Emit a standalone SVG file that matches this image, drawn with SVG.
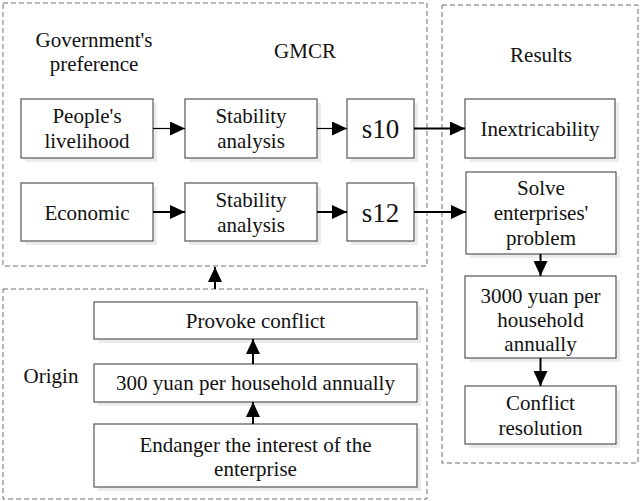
<svg xmlns="http://www.w3.org/2000/svg" width="640" height="501" viewBox="0 0 640 501">
<style>
.frame{fill:none;stroke:#6e6e6e;stroke-width:1;stroke-dasharray:5,3}
.box{fill:#fff;stroke:#555;stroke-width:1.2}
.sh{fill:#ececec}
text{font-family:"Liberation Serif","Times New Roman",Times,Tinos,"Noto Serif","DejaVu Serif",Georgia,serif;font-size:21px;fill:#111;text-anchor:middle}
.big{font-size:27px}
.c{fill:none;stroke:#000;stroke-width:2}
</style>
<defs>
<marker id="ah" markerUnits="userSpaceOnUse" markerWidth="16" markerHeight="14" refX="15" refY="7" orient="auto">
<path d="M0,0 L15,7 L0,14 Z" fill="#000"/>
</marker>
</defs>
<rect width="640" height="501" fill="#fff"/>
<g id="frames">
<rect class="frame" x="3" y="3" width="424" height="263"/>
<rect class="frame" x="442" y="5" width="196" height="458"/>
<rect class="frame" x="3" y="289" width="424" height="210"/>
</g>
<g id="labels">
<text x="94" y="47">Government's</text>
<text x="94" y="71">preference</text>
<text x="305" y="58">GMCR</text>
<text x="541" y="62">Results</text>
<text x="51" y="383">Origin</text>
</g>
<g id="n_people">
<rect class="sh" x="25" y="103" width="132" height="59"/>
<rect class="box" x="21" y="99" width="132" height="59"/>
<text x="87" y="123">People's</text>
<text x="87" y="148">livelihood</text>
</g>
<g id="n_stab1">
<rect class="sh" x="189" y="103" width="132" height="59"/>
<rect class="box" x="185" y="99" width="132" height="59"/>
<text x="251" y="123">Stability</text>
<text x="251" y="148">analysis</text>
</g>
<g id="n_s10">
<rect class="sh" x="351" y="103" width="67" height="59"/>
<rect class="box" x="347" y="99" width="67" height="59"/>
<text class="big" x="380.5" y="138">s10</text>
</g>
<g id="n_inex">
<rect class="sh" x="469" y="103" width="150" height="59"/>
<rect class="box" x="465" y="99" width="150" height="59"/>
<text x="540" y="136">Inextricability</text>
</g>
<g id="n_econ">
<rect class="sh" x="25" y="187" width="132" height="58"/>
<rect class="box" x="21" y="183" width="132" height="58"/>
<text x="87" y="220">Economic</text>
</g>
<g id="n_stab2">
<rect class="sh" x="189" y="187" width="132" height="58"/>
<rect class="box" x="185" y="183" width="132" height="58"/>
<text x="251" y="207">Stability</text>
<text x="251" y="232">analysis</text>
</g>
<g id="n_s12">
<rect class="sh" x="351" y="187" width="67" height="58"/>
<rect class="box" x="347" y="183" width="67" height="58"/>
<text class="big" x="380.5" y="222">s12</text>
</g>
<g id="n_solve">
<rect class="sh" x="470" y="176" width="150" height="82"/>
<rect class="box" x="466" y="172" width="150" height="82"/>
<text x="541" y="195">Solve</text>
<text x="541" y="220">enterprises'</text>
<text x="541" y="245">problem</text>
</g>
<g id="n_3000">
<rect class="sh" x="469" y="280" width="151" height="82"/>
<rect class="box" x="465" y="276" width="151" height="82"/>
<text x="540.5" y="303">3000 yuan per</text>
<text x="540.5" y="327">household</text>
<text x="540.5" y="351">annually</text>
</g>
<g id="n_resol">
<rect class="sh" x="469" y="390" width="151" height="58"/>
<rect class="box" x="465" y="386" width="151" height="58"/>
<text x="540.5" y="410">Conflict</text>
<text x="540.5" y="435">resolution</text>
</g>
<g id="n_provoke">
<rect class="sh" x="98" y="306" width="323" height="37"/>
<rect class="box" x="94" y="302" width="323" height="37"/>
<text x="255.5" y="328">Provoke conflict</text>
</g>
<g id="n_300">
<rect class="sh" x="98" y="368" width="323" height="38"/>
<rect class="box" x="94" y="364" width="323" height="38"/>
<text x="255.5" y="390">300 yuan per household annually</text>
</g>
<g id="n_endanger">
<rect class="sh" x="98" y="428" width="323" height="63"/>
<rect class="box" x="94" y="424" width="323" height="63"/>
<text x="255.5" y="452">Endanger the interest of the</text>
<text x="255.5" y="476">enterprise</text>
</g>
<g id="connectors">
<line class="c" x1="153" y1="128.5" x2="185" y2="128.5" marker-end="url(#ah)" style="stroke-width:1.2"/>
<line class="c" x1="317" y1="128.5" x2="347" y2="128.5" marker-end="url(#ah)" style="stroke-width:1.2"/>
<line class="c" x1="414" y1="128.5" x2="465" y2="128.5" marker-end="url(#ah)"/>
<line class="c" x1="153" y1="212" x2="185" y2="212" marker-end="url(#ah)"/>
<line class="c" x1="317" y1="212" x2="347" y2="212" marker-end="url(#ah)"/>
<line class="c" x1="414" y1="212" x2="466" y2="212" marker-end="url(#ah)"/>
<line class="c" x1="540.5" y1="254" x2="540.5" y2="276" marker-end="url(#ah)"/>
<line class="c" x1="540.5" y1="358" x2="540.5" y2="386" marker-end="url(#ah)"/>
<line class="c" x1="215" y1="289" x2="215" y2="267" marker-end="url(#ah)"/>
<line class="c" x1="253" y1="364" x2="253" y2="339" marker-end="url(#ah)"/>
<line class="c" x1="253" y1="424" x2="253" y2="402" marker-end="url(#ah)"/>
</g>
</svg>
